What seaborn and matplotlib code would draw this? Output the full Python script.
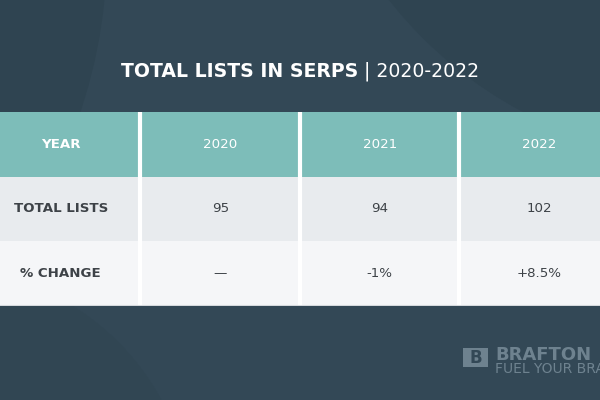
import numpy as np
import pandas as pd
import matplotlib.pyplot as plt
import seaborn as sns
from matplotlib.colors import ListedColormap
from matplotlib.patches import Circle, Rectangle

# table content
row_labels = ['YEAR', 'TOTAL LISTS', '% CHANGE']
years = ['2020', '2021', '2022']
total_lists = [95, 94, 102]
pct_change = ['\u2014', '-1%', '+8.5%']

sns.set_theme(style='white')
plt.rcParams['font.family'] = ['DejaVu Sans']

cells = pd.DataFrame([
    [row_labels[0]] + years,
    [row_labels[1]] + [str(v) for v in total_lists],
    [row_labels[2]] + pct_change,
])
shade = pd.DataFrame([[0] * 4, [1] * 4, [2] * 4])

fig = plt.figure(figsize=(6, 4), dpi=100)
fig.patch.set_facecolor('#334856')

# background decoration in pixel coords
bg = fig.add_axes([0, 0, 1, 1])
bg.set_xlim(0, 600)
bg.set_ylim(400, 0)
bg.axis('off')
bg.add_patch(Circle((-400, -50), 507, color='#2f4451', lw=0))
bg.add_patch(Circle((720, -260), 421, color='#2f4451', lw=0))
bg.add_patch(Circle((-60, 520), 252, color='#314653', lw=0))

# title: bold part + regular part, centred together
t1 = fig.text(0, 0.822, 'TOTAL LISTS IN SERPS', ha='left', va='center',
              color='white', fontsize=13.6, fontweight='bold')
t2 = fig.text(0, 0.822, ' | 2020-2022', ha='left', va='center',
              color='white', fontsize=13.6)
r = fig.canvas.get_renderer()
w1 = t1.get_window_extent(r).width
w2 = t2.get_window_extent(r).width
x0 = (600 - w1 - w2) / 2
t1.set_x(x0 / 600)
t2.set_x((x0 + w1) / 600)

# table (cropped at both sides like the original)
ax = fig.add_axes([-19 / 600, 94 / 400, 638 / 600, 194 / 400])
cmap = ListedColormap(['#7dbdb9', '#e8ebee', '#f5f6f8'])
sns.heatmap(shade, annot=cells, fmt='', cmap=cmap, vmin=-0.5, vmax=2.5,
            cbar=False, ax=ax, xticklabels=False, yticklabels=False,
            annot_kws={'fontsize': 9.6})
for i, t in enumerate(ax.texts):
    row, col = divmod(i, 4)
    t.set_color('white' if row == 0 else '#3d4247')
    if col == 0:
        t.set_fontweight('bold')
for x in [1, 2, 3]:
    ax.axvline(x, color='white', lw=3)
ax.axhline(3, color='#d5d9dd', lw=1.5)

# logo watermark
bg.add_patch(Rectangle((463, 348), 25, 19, color='#6e828f', lw=0))
bg.text(475.5, 358, 'B', ha='center', va='center', color='#334856',
        fontsize=12, fontweight='bold')
bg.text(495, 354.5, 'BRAFTON', ha='left', va='center', color='#6e828f',
        fontsize=13, fontweight='bold')
bg.text(495, 369, 'FUEL YOUR BRAND', ha='left', va='center',
        color='#6e828f', fontsize=10)

fig.savefig('out.png', dpi=100, facecolor=fig.get_facecolor())
